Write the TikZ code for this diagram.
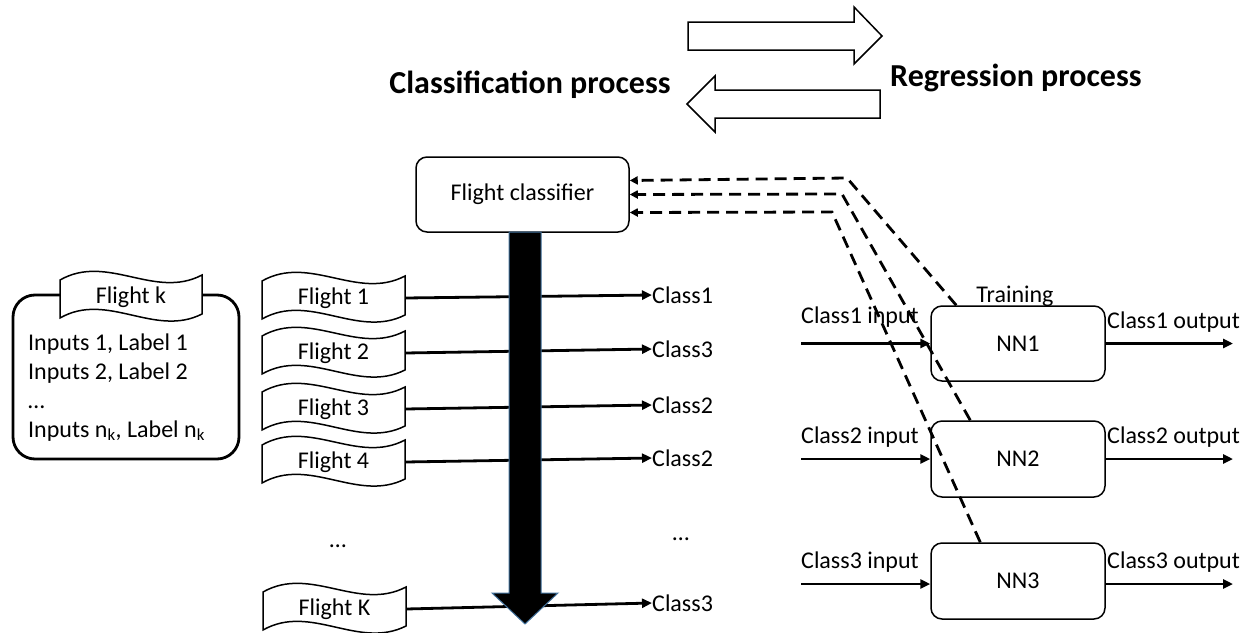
\documentclass[tikz,border=0pt]{standalone}
\usepackage{fontspec}
\setmainfont{Carlito}
\usetikzlibrary{arrows.meta,calc}
\definecolor{arrowedge}{RGB}{65,113,156}
% #1 name, #2 cx, #3 cy, #4 half width, #5 text
\newcommand{\flighttape}[5]{%
  \draw[boxline, fill=white] (#2-#4,#3-17) .. controls (#2-#4/3,#3-44) and (#2+#4/3,#3+3) .. (#2+#4,#3-22)
     -- (#2+#4,#3+17) .. controls (#2+#4/3,#3+41) and (#2-#4/3,#3-6) .. (#2-#4,#3+21) -- cycle;
  \node[txt, minimum width=2*#4pt] (#1) at (#2,#3) {#5};
}
\begin{document}
\begin{tikzpicture}[x=1pt,y=-1pt,
  txt/.style={font=\fontsize{24}{28}\selectfont, inner sep=0pt},
  title/.style={font=\fontsize{32}{38}\selectfont\bfseries, inner sep=0pt},
  boxline/.style={draw=black, line width=1.5pt},
  rbox/.style={boxline, rounded corners=11pt, fill=white, inner sep=0pt, font=\fontsize{24}{28}\selectfont},
  flow/.style={line width=2.8pt, -{Triangle[length=10pt,width=9pt]}},
  dashline/.style={line width=2.8pt, dash pattern=on 12pt off 7pt, -{Triangle[length=8pt,width=8pt]}},
]
\useasboundingbox (0,0) rectangle (1250,632);

% top block arrows
\draw[boxline, fill=white] (688,22) -- (854,22) -- (854,7) -- (882,36) -- (854,64) -- (854,50) -- (688,50) -- cycle;
\draw[boxline, fill=white] (880,90) -- (715,90) -- (715,76) -- (687,104) -- (715,132) -- (715,118) -- (880,118) -- cycle;
\node[title, anchor=base] (clsproc) at (530,93) {Classification process};
\node[title, anchor=base west] (regproc) at (890,86) {Regression process};

% flight k group
\node[draw, line width=2.8pt, rounded corners=22pt, minimum width=226pt, minimum height=164pt] (fk) at (126,377) {};
\flighttape{fkt}{131}{297}{71}{Flight k}
\node[txt, anchor=base west] (fkl1) at (28,350) {Inputs 1, Label 1};
\node[txt, anchor=base west] (fkl2) at (28,379) {Inputs 2, Label 2};
\node[txt, anchor=base west] (fkl3) at (28,408) {…};
\node[txt, anchor=base west] (fkl4) at (28,437) {Inputs n\textsubscript{k}, Label n\textsubscript{k}};

% classifier
\node[rbox, minimum width=213pt, minimum height=75pt] (cls) at (522.5,194.5) {Flight classifier};

% flights
\flighttape{f1}{333.5}{298}{71.5}{Flight 1}
\flighttape{f2}{333.5}{353}{71.5}{Flight 2}
\flighttape{f3}{333.5}{409}{71.5}{Flight 3}
\flighttape{f4}{333.5}{462}{71.5}{Flight 4}
\flighttape{fK}{334.5}{609}{71.5}{Flight K}
\node[txt, anchor=base] (ldots) at (338,547) {…};
\node[txt, anchor=base] (rdots) at (681,540) {…};

% class labels
\node[txt, anchor=west] (k1) at (652,295) {Class1};
\node[txt, anchor=west] (k2) at (652,349) {Class3};
\node[txt, anchor=west] (k3) at (652,405) {Class2};
\node[txt, anchor=west] (k4) at (652,458) {Class2};
\node[txt, anchor=west] (k5) at (652,603) {Class3};
\draw[flow] (f1.east) -- (k1.west);
\draw[flow] (f2.east) -- (k2.west);
\draw[flow] (f3.east) -- (k3.west);
\draw[flow] (f4.east) -- (k4.west);
\draw[flow] (fK.east) -- (k5.west);

% big black arrow
\draw[draw=arrowedge, fill=black, line width=1pt] (509,232) -- (541,232) -- (541,593) -- (558,593) -- (525,624) -- (492,593) -- (509,593) -- cycle;

% NN boxes
\node[rbox, minimum width=174pt, minimum height=75pt] (nn1) at (1018,343.5) {NN1};
\node[rbox, minimum width=174pt, minimum height=76pt] (nn2) at (1018,459) {NN2};
\node[rbox, minimum width=174pt, minimum height=76pt] (nn3) at (1018,581) {NN3};
\node[txt, anchor=base] (train) at (1015,302) {Training};

\coordinate (i1) at (801,343.5);
\coordinate (i2) at (801,459);
\coordinate (i3) at (801,584);
\coordinate (o1) at (1233,343.5);
\coordinate (o2) at (1233,459);
\coordinate (o3) at (1233,584);
\draw[flow] (i1) -- (nn1.west);
\draw[flow] (i2) -- (nn2.west);
\draw[flow] (i3) -- (nn3.west |- i3);
\draw[flow] (nn1.east) -- (o1);
\draw[flow] (nn2.east) -- (o2);
\draw[flow] (nn3.east |- o3) -- (o3);
\node[txt, anchor=base west] (ci1) at (801,323) {Class1 input};
\node[txt, anchor=base west] (ci2) at (801,443) {Class2 input};
\node[txt, anchor=base west] (ci3) at (801,568) {Class3 input};
\node[txt, anchor=base west] (co1) at (1107,328) {Class1 output};
\node[txt, anchor=base west] (co2) at (1107,443) {Class2 output};
\node[txt, anchor=base west] (co3) at (1107,568) {Class3 output};

% dashed feedback lines
\coordinate (d1) at (847,178);
\coordinate (d2) at (842,194);
\coordinate (d3) at (832,212);
\draw[dashline] ($(nn1.north west)+(26,0)$) -- (d1) -- ($(cls.east)+(0,-14)$);
\draw[dashline] ($(nn2.north west)+(40,0)$) -- (d2) -- (cls.east);
\draw[dashline] ($(nn3.north west)+(50,0)$) -- (d3) -- ($(cls.east)+(0,18)$);
\end{tikzpicture}
\end{document}
